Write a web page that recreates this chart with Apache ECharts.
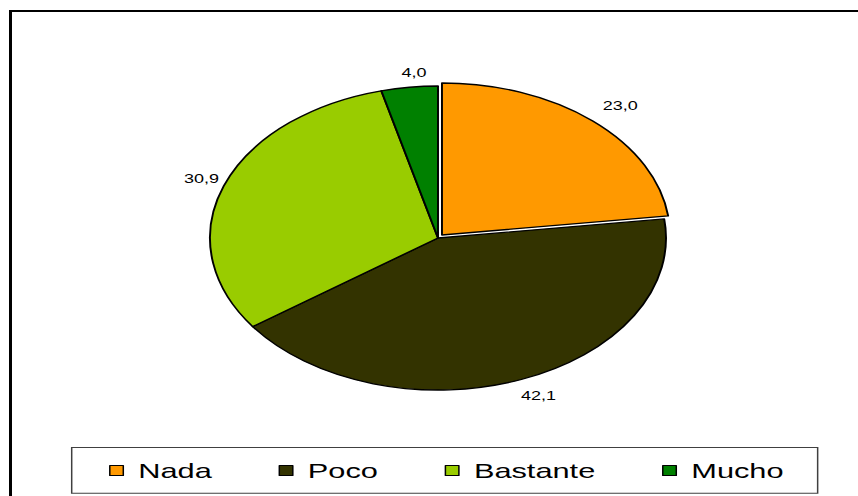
<!DOCTYPE html>
<html>
<head>
<meta charset="utf-8">
<script src="https://cdn.jsdelivr.net/npm/echarts@6/dist/echarts.min.js"></script>
<style>
  html, body { margin: 0; padding: 0; background: #fff; overflow: hidden; }
  #wrap { width: 858px; height: 496px; overflow: hidden; }
  /* the chart is laid out narrow and stretched horizontally */
  #chart { width: 572px; height: 496px; transform: scaleX(1.5); transform-origin: 0 0; }
</style>
</head>
<body>
<div id="wrap"><div id="chart"></div></div>
<script>
const categories = ['Nada', 'Poco', 'Bastante', 'Mucho'];
const values = [23.0, 42.1, 30.9, 4.0];
const colors = ['#FF9900', '#333300', '#99CC00', '#008000'];
const explodedCategory = 'Nada';

const fontFamily = '"Liberation Sans", Arial, sans-serif';
const fmt = v => v.toFixed(1).replace('.', ',');

const PIE_CENTER = [292, 238];
const PIE_RADIUS = 152;
const SELECTED_OFFSET = 4;   // explosion distance of the highlighted slice
const LABEL_GAP = 8;         // space between the rim and the label box
const LABEL_SHIFT_X = 5;     // labels sit a little to the right of their anchor

const chart = echarts.init(document.getElementById('chart'), null, { renderer: 'svg' });

const sliceData = categories.map((name, i) => ({
  name: name,
  value: values[i],
  selected: name === explodedCategory,
  itemStyle: { color: colors[i] }
}));

const labelData = categories.map((name, i) => ({ name: name, value: values[i] }));

// Put each value label just outside the rim, on the slice's bisector,
// pushed out far enough that its box clears the rim.
function placeLabel(params) {
  const model = chart.getModel && chart.getModel();
  if (!model) return {};
  const series = model.getSeriesByIndex(params.seriesIndex);
  if (!series) return {};
  const lay = series.getData().getItemLayout(params.dataIndex);
  if (!lay) return {};
  const mid = (lay.startAngle + lay.endAngle) / 2;
  const dx = Math.cos(mid), dy = Math.sin(mid);
  const explode = categories[params.dataIndex] === explodedCategory ? SELECTED_OFFSET : 0;
  const halfW = params.labelRect.width / 2;
  const halfH = params.labelRect.height / 2;
  const reach = lay.r + explode + LABEL_GAP + Math.abs(dx) * halfW + Math.abs(dy) * halfH;
  return {
    x: lay.cx + dx * reach + LABEL_SHIFT_X,
    y: lay.cy + dy * reach,
    align: 'center',
    verticalAlign: 'middle'
  };
}

chart.setOption({
  animation: false,
  backgroundColor: '#fff',
  graphic: [
    // outer frame
    {
      type: 'rect', z: 0, silent: true,
      shape: { x: 7, y: 11, width: 700, height: 600 },
      style: { fill: 'none', stroke: '#000', lineWidth: 2 }
    },
    // legend box
    {
      type: 'rect', z: 0, silent: true,
      shape: { x: 47.8, y: 447.5, width: 497.3, height: 45.8 },
      style: { fill: '#fff', stroke: '#404040', lineWidth: 1 }
    }
  ],
  legend: {
    data: categories,
    left: 72.7,
    top: 460,
    padding: 0,
    orient: 'horizontal',
    itemWidth: 9,
    itemHeight: 10,
    itemGap: 44.5,
    icon: 'rect',
    selectedMode: false,
    itemStyle: { borderColor: '#000', borderWidth: 1 },
    textStyle: {
      fontFamily: fontFamily,
      fontSize: 20.5,
      color: '#000',
      padding: [0, 0, 0, 5]
    }
  },
  series: [
    {
      // the slices, with one exploded
      type: 'pie',
      z: 2,
      center: PIE_CENTER,
      radius: PIE_RADIUS,
      startAngle: 90,
      clockwise: true,
      selectedMode: 'single',
      selectedOffset: SELECTED_OFFSET,
      itemStyle: { borderColor: '#000', borderWidth: 1.3 },
      emphasis: { disabled: true },
      select: { itemStyle: { borderColor: '#000', borderWidth: 1.3 } },
      label: { show: false },
      labelLine: { show: false },
      data: sliceData
    },
    {
      // value labels, laid out on the same pie
      type: 'pie',
      z: 3,
      silent: true,
      center: PIE_CENTER,
      radius: PIE_RADIUS,
      startAngle: 90,
      clockwise: true,
      selectedMode: false,
      avoidLabelOverlap: false,
      itemStyle: { color: 'rgba(0,0,0,0)', borderWidth: 0 },
      emphasis: { disabled: true },
      label: {
        show: true,
        position: 'outside',
        formatter: p => fmt(p.value),
        fontFamily: fontFamily,
        fontSize: 12,
        color: '#000'
      },
      labelLine: { show: false, length: 10, length2: 0 },
      labelLayout: placeLabel,
      data: labelData
    }
  ]
});
</script>
</body>
</html>
